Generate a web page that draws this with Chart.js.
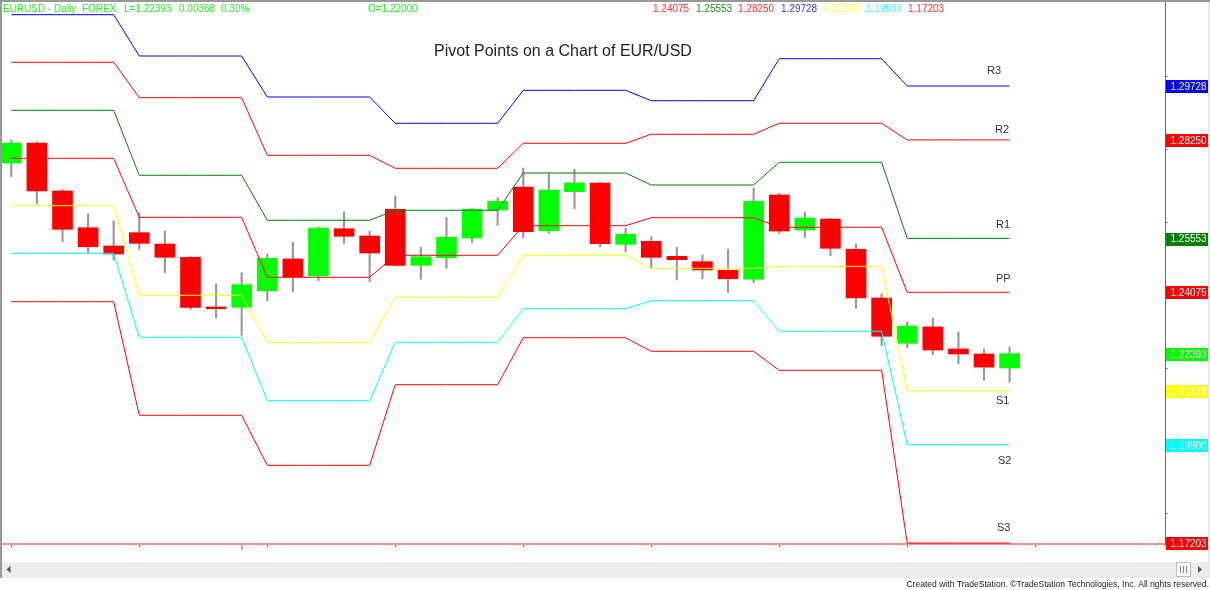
<!DOCTYPE html>
<html>
<head>
<meta charset="utf-8">
<title>Pivot Points on a Chart of EUR/USD</title>
<script src="https://cdn.jsdelivr.net/npm/chart.js@4"></script>
<style>
html,body{margin:0;padding:0;background:#fff;overflow:hidden}
canvas{display:block}
</style>
</head>
<body>
<canvas id="c" width="1210" height="590"></canvas>
<script>
const opens  = [1.27618,1.28166,1.26851,1.25845,1.25343,1.25708,1.25398,1.25034,1.23672,1.23663,1.24118,1.24987,1.24521,1.25817,1.25617,1.26349,1.24814,1.25023,1.25563,1.26330,1.26960,1.25763,1.26831,1.27070,1.25390,1.25472,1.25061,1.24913,1.24677,1.24431,1.26741,1.25782,1.26083,1.25253,1.23918,1.22677,1.23124,1.22521,1.22384,1.22000];
const closes = [1.28166,1.26851,1.25801,1.25324,1.25124,1.25417,1.25034,1.23663,1.23625,1.24283,1.25006,1.24502,1.25837,1.25609,1.25152,1.24814,1.25050,1.25582,1.26349,1.26568,1.25735,1.26878,1.27070,1.25406,1.25664,1.25034,1.24968,1.24686,1.24447,1.26568,1.25754,1.26111,1.25280,1.23918,1.22869,1.23151,1.22493,1.22384,1.22025,1.22393];
const highs  = [1.28248,1.28207,1.26892,1.26220,1.26037,1.26256,1.25754,1.25061,1.24302,1.24612,1.25124,1.25453,1.25864,1.26275,1.25754,1.26714,1.25308,1.26130,1.26377,1.26659,1.27481,1.27352,1.27445,1.27097,1.25837,1.25598,1.25308,1.25097,1.25253,1.26933,1.26788,1.26275,1.26097,1.25398,1.24028,1.23261,1.23370,1.22987,1.22521,1.22575];
const lows   = [1.27243,1.26508,1.25461,1.25160,1.24960,1.25253,1.24612,1.23609,1.23370,1.22896,1.23844,1.24091,1.24392,1.25417,1.24365,1.24809,1.24431,1.24732,1.25434,1.25911,1.25563,1.25691,1.26366,1.25324,1.25179,1.24721,1.24412,1.24439,1.24074,1.24338,1.25691,1.25582,1.25078,1.23636,1.22611,1.22556,1.22365,1.22118,1.21663,1.21616];

// Pivot levels, one value per five-bar period
const r3Levels = [1.31682,1.30550,1.29427,1.28706,1.29610,1.29325,1.30476,1.29728];
const r2Levels = [1.30378,1.29408,1.27829,1.27473,1.28158,1.28405,1.28706,1.28250];
const r1Levels = [1.29062,1.27281,1.26048,1.26322,1.27344,1.27015,1.27637,1.25553];
const ppLevels = [1.27747,1.26130,1.24486,1.25089,1.25900,1.26119,1.25856,1.24075];
const s1Levels = [1.26448,1.23992,1.22704,1.23938,1.25089,1.24732,1.24787,1.21378];
const s2Levels = [1.25143,1.22841,1.21104,1.22704,1.23625,1.23844,1.23006,1.19900];
const s3Levels = [1.23817,1.20704,1.19333,1.21542,1.22830,1.22458,1.21937,1.17203];

const xTickValues = [0,5,10,15,20,25,30,35,40];
const yTickValues = [1.18,1.20,1.22,1.24,1.26,1.28,1.30];

const tagValues = [1.29728,1.28250,1.25553,1.24075,1.22393,1.21378,1.19900,1.17203];
const tagColors = ['#0000ff','#ff0000','#008000','#ff0000','#00ff00','#ffff00','#00ffff','#ff0000'];

const UP='#00ff00', DOWN='#ff0000';
const idx = opens.map((_,i)=>i);
const bodyColors = idx.map(i=>closes[i]>=opens[i]?UP:DOWN);
const expand = levels => levels.flatMap((v,w)=>[0,1,2,3,4].map(d=>({x:w*5+d,y:v})));
const line = (label,levels,color)=>({type:'line',label,data:expand(levels),borderColor:color,borderWidth:1,pointRadius:0,tension:0,fill:false,order:0,parsing:true});

const furniture = {
  id:'furniture',
  afterDraw(chart){
    const {ctx,scales:{x,y}} = chart;
    ctx.save();
    // tall tick
    ctx.fillStyle='#ff9a9a';
    ctx.fillRect(Math.round(x.getPixelForValue(9))-1,545,2,5);
    // window frame
    ctx.fillStyle='#999999';
    ctx.fillRect(0,0,1210,2);
    ctx.fillRect(0,0,2,578);
    ctx.fillStyle='#e8e8e8';
    ctx.fillRect(1208,2,2,576);
    // scrollbar
    ctx.fillStyle='#ececec';
    ctx.fillRect(2,562,1206,16);
    ctx.fillStyle='#f6f6f6';
    ctx.fillRect(1176,562,15,15);
    ctx.strokeStyle='#bdbdbd';
    ctx.strokeRect(1176.5,562.5,14,14);
    ctx.fillStyle='#888';
    [1180,1183,1186].forEach(p=>ctx.fillRect(p,566,1,7));
    ctx.fillStyle='#555';
    ctx.beginPath();ctx.moveTo(6.5,569.5);ctx.lineTo(10.5,566);ctx.lineTo(10.5,573);ctx.fill();
    ctx.beginPath();ctx.moveTo(1202,569.5);ctx.lineTo(1198,566);ctx.lineTo(1198,573);ctx.fill();

    // value tags on the right axis
    ctx.textBaseline='middle';
    tagValues.forEach((v,i)=>{
      const py=y.getPixelForValue(v)+0.7;
      ctx.fillStyle=tagColors[i];
      ctx.fillRect(1166,Math.round(py-6.5),42,13);
      ctx.fillStyle='#ffffff';
      ctx.font='10px "Liberation Sans"';
      ctx.textAlign='left';
      ctx.fillText(v.toFixed(5),1170.5,py+0.5);
    });

    // header
    ctx.font='10px "Liberation Sans"';
    ctx.textAlign='left';
    ctx.fillStyle='#22ee22';
    ctx.fillText('EURUSD - Daily  FOREX',3,9);
    ctx.fillText('L=1.22393',124,9);
    ctx.fillText('0.00368',179,9);
    ctx.fillText('0.30%',221,9);
    ctx.fillText('O=1.22000',368,9);
    const hdr=[['1.24075','#ff3333',653],['1.25553','#228b22',696],['1.28250','#ff3333',738],['1.29728','#3333ff',781],['1.21378','#ffff33',823],['1.19900','#33ffff',866],['1.17203','#ff3333',908]];
    hdr.forEach(([t,c,px])=>{ctx.fillStyle=c;ctx.fillText(t,px,9);});

    // title
    ctx.fillStyle='#222222';
    ctx.font='16px "Liberation Sans"';
    ctx.fillText('Pivot Points on a Chart of EUR/USD',434,51.5);

    // level names
    ctx.fillStyle='#333333';
    ctx.font='11px "Liberation Sans"';
    const names=[['R3',987,71],['R2',995,129.5],['R1',996,224.5],['PP',996,278.5],['S1',996,401],['S2',998,461],['S3',997,528]];
    names.forEach(([t,px,py])=>ctx.fillText(t,px,py));

    // footer
    ctx.fillStyle='#222222';
    ctx.font='8.55px "Liberation Sans"';
    ctx.textAlign='right';
    ctx.fillText('Created with TradeStation. \u00A9TradeStation Technologies, Inc. All rights reserved.',1209,585);
    ctx.restore();
  }
};

new Chart(document.getElementById('c'),{
  data:{
    datasets:[
      line('R3',r3Levels,'#0000ff'),
      line('R2',r2Levels,'#ff0000'),
      line('R1',r1Levels,'#008000'),
      line('PP',ppLevels,'#ff0000'),
      line('S1',s1Levels,'#ffff00'),
      line('S2',s2Levels,'#00ffff'),
      line('S3',s3Levels,'#ff0000'),
      {type:'bar',label:'Body',data:idx.map(i=>({x:i,y:[opens[i],closes[i]]})),backgroundColor:bodyColors,barThickness:20,grouped:false,order:1},
      {type:'bar',label:'Wick',data:idx.map(i=>({x:i,y:[lows[i],highs[i]]})),backgroundColor:'#999999',barThickness:1.5,grouped:false,order:2}
    ]
  },
  options:{
    responsive:false,
    animation:false,
    devicePixelRatio:1,
    layout:{padding:{top:2,left:2,right:0,bottom:0}},
    plugins:{legend:{display:false},tooltip:{enabled:false},title:{display:false}},
    scales:{
      x:{
        type:'linear',offset:false,min:-0.363,max:45.07,
        afterBuildTicks:s=>{s.ticks=xTickValues.map(v=>({value:v}));},
        afterFit:s=>{s.height=46;},
        ticks:{display:false},
        grid:{offset:false,drawOnChartArea:false,drawTicks:true,tickLength:3,tickColor:'#ff2020',tickWidth:1},
        border:{color:'#ff9090',width:2}
      },
      y:{
        type:'linear',position:'right',min:1.17177,max:1.32030,
        afterBuildTicks:s=>{s.ticks=yTickValues.map(v=>({value:v}));},
        afterFit:s=>{s.width=45;},
        ticks:{display:false},
        grid:{drawOnChartArea:false,drawTicks:true,tickLength:3,tickColor:'#ff6060',tickWidth:1},
        border:{color:'#f03030',width:1}
      }
    }
  },
  plugins:[furniture]
});
</script>
</body>
</html>
